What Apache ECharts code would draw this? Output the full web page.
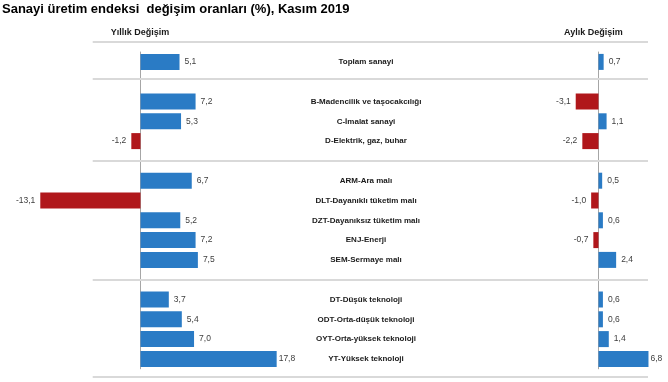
<!DOCTYPE html>
<html><head><meta charset="utf-8">
<script src="https://cdn.jsdelivr.net/npm/echarts@6/dist/echarts.min.js"></script>
<style>html,body{margin:0;padding:0;background:#fff}#c{width:668px;height:382px}</style>
</head><body><div id="c"></div>
<script>
const categories = ['Toplam sanayi', ' ', 'B-Madencilik ve taşocakcılığı', 'C-İmalat sanayi', 'D-Elektrik, gaz, buhar', '  ',
  'ARM-Ara malı', 'DLT-Dayanıklı tüketim malı', 'DZT-Dayanıksız tüketim malı', 'ENJ-Enerji', 'SEM-Sermaye malı', '   ',
  'DT-Düşük teknoloji', 'ODT-Orta-düşük teknoloji', 'OYT-Orta-yüksek teknoloji', 'YT-Yüksek teknoloji'];
const yearly  = [5.1, null, 7.2, 5.3, -1.2, null, 6.7, -13.1, 5.2, 7.2, 7.5, null, 3.7, 5.4, 7.0, 17.8];
const monthly = [0.7, null, -3.1, 1.1, -2.2, null, 0.5, -1.0, 0.6, -0.7, 2.4, null, 0.6, 0.6, 1.4, 6.8];
const titleText = 'Sanayi üretim endeksi  değişim oranları (%), Kasım 2019';
const leftHeader = 'Yıllık Değişim';
const rightHeader = 'Aylık Değişim';

const BLUE = '#2a7bc5', RED = '#b0171b';
const FONT = '"Liberation Sans", Arial, sans-serif';
function fmt(v) { return v.toFixed(1).replace('.', ','); }
function build(vals) {
  const mx = Math.max(...vals.filter(v => v != null));
  return vals.map(v => v == null ? '-' : {
    value: v,
    itemStyle: { color: v < 0 ? RED : BLUE },
    label: { position: v < 0 ? 'left' : 'right', distance: v === mx ? 2 : 5 }
  });
}
const valueLabel = {
  show: true, fontFamily: FONT, fontSize: 8.5, color: '#404040',
  formatter: p => (typeof p.value === 'number' ? fmt(p.value) : '')
};
const chart = echarts.init(document.getElementById('c'), null, { renderer: 'canvas' });
chart.setOption({
  animation: false,
  backgroundColor: '#fff',
  grid: [
    { left: 33.4, width: 244.8, top: 52, height: 316.8 },
    { left: 569.1, width: 88.2, top: 52, height: 316.8 },
    { left: 92.7, width: 555.3, top: 42.1, height: 336.6 }
  ],
  xAxis: [
    { gridIndex: 0, type: 'value', min: -14, max: 18, show: false },
    { gridIndex: 1, type: 'value', min: -4, max: 8, show: false },
    { gridIndex: 2, type: 'value', min: 0, max: 1, show: false }
  ],
  yAxis: [
    { gridIndex: 0, type: 'category', data: categories, inverse: true,
      axisLine: { show: true, onZero: true, lineStyle: { color: '#a6a6a6', width: 1 } },
      axisTick: { show: false }, axisLabel: { show: false }, splitLine: { show: false } },
    { gridIndex: 0, type: 'category', data: categories, inverse: true, position: 'right',
      axisLine: { show: false, onZero: false }, axisTick: { show: false }, splitLine: { show: false },
      axisLabel: { show: true, interval: 0, align: 'center', margin: 87.8, fontFamily: FONT,
        fontWeight: 'bold', fontSize: 8, color: '#1a1a1a' } },
    { gridIndex: 1, type: 'category', data: categories, inverse: true,
      axisLine: { show: true, onZero: true, lineStyle: { color: '#a6a6a6', width: 1 } },
      axisTick: { show: false }, axisLabel: { show: false }, splitLine: { show: false } },
    { gridIndex: 2, type: 'value', min: -1, max: 16, inverse: true, show: false }
  ],
  series: [
    { type: 'bar', xAxisIndex: 0, yAxisIndex: 0, barWidth: 16, data: build(yearly), label: valueLabel },
    { type: 'bar', xAxisIndex: 1, yAxisIndex: 2, barWidth: 16, data: build(monthly), label: valueLabel },
    { type: 'line', xAxisIndex: 2, yAxisIndex: 3, data: [],
      markLine: { silent: true, symbol: ['none', 'none'], label: { show: false },
        lineStyle: { color: '#d9d9d9', width: 2, type: 'solid' },
        data: [{ yAxis: -1 }, { yAxis: 0.87 }, { yAxis: 5 }, { yAxis: 11 }, { yAxis: 15.92 }] } }
  ],
  graphic: [
    { type: 'text', left: 2, top: 2.5, style: { text: titleText, font: 'bold 13px "Liberation Sans", Arial', fill: '#000' } },
    { type: 'text', left: 110.7, top: 28, style: { text: leftHeader, font: 'bold 9px "Liberation Sans", Arial', fill: '#1a1a1a' } },
    { type: 'text', left: 564, top: 28, style: { text: rightHeader, font: 'bold 9px "Liberation Sans", Arial', fill: '#1a1a1a' } }
  ]
});
</script></body></html>
